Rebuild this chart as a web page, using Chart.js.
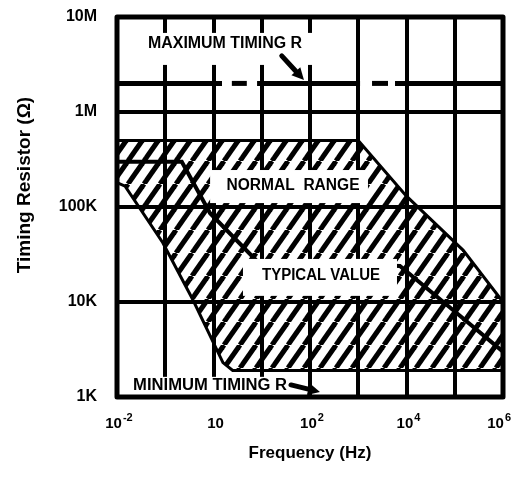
<!DOCTYPE html>
<html>
<head>
<meta charset="utf-8">
<script src="https://cdn.jsdelivr.net/npm/chart.js@4.4.1/dist/chart.umd.min.js"></script>
<style>
  html, body { margin: 0; padding: 0; background: #fff; }
  #wrap { width: 515px; height: 482px; }
</style>
</head>
<body>
<div id="wrap"><canvas id="c" width="515" height="482"></canvas></div>
<script>
// Timing resistor range versus oscillator frequency
const FONT = '"Liberation Sans", Arial, sans-serif';

// frequency axis decades (Hz); printed labels as base + exponent
const freqTicks = [1e-2, 1e-1, 1, 1e1, 1e2, 1e3, 1e4, 1e5, 1e6];
const freqTickBase = ['10', '', '10', '', '10', '', '10', '', '10'];
const freqTickExp  = ['-2', '', '',   '', '2',  '', '4',  '', '6'];

// resistor axis decades (ohms) and their printed labels
const resTicks = [1e3, 1e4, 1e5, 1e6, 1e7];
const resTickLabels = ['1K', '10K', '100K', '1M', '10M'];

// upper edge of the normal range
const upperFreq = [0.01, 1e3, 1e4, 1.5e5, 1e6];
const upperRes  = [5e5, 5e5, 1.3e5, 3.5e4, 1e4];

// lower edge of the normal range
const lowerFreq = [0.01, 0.0147, 0.089, 0.376, 1.57, 2.5, 1e6];
const lowerRes  = [1.8e5, 1.66e5, 4.2e4, 1.05e4, 2.3e3, 1.9e3, 1.9e3];

// typical value curve
const typFreq = [0.01, 0.22, 0.85, 7.9, 7300, 6.9e4, 1e6];
const typRes  = [3e5, 3e5, 8.6e4, 2.7e4, 2.4e4, 9.3e3, 3e3];

// maximum timing resistor limit, broken in two stretches
const maxFreq = [0.01, 1.5, 2.4, 4.9, 8.0, 1090, 1930, 4140, 5780, 1e6];
const maxRes  = [2e6, 2e6, 2e6, 2e6, 2e6, 2e6, 2e6, 2e6, 2e6, 2e6];

const toPoints = (xs, ys) => xs.map((x, i) => ({ x, y: ys[i] }));

// text annotations, placed in data coordinates
const notes = [
  { text: 'MAXIMUM TIMING R', at: [1.73, 5.2e6], box: [0.030, 6.8e6, 110, 3.13e6], width: 154 },
  { text: 'NORMAL  RANGE',    at: [44.5, 1.66e5], box: [0.85, 2.45e5, 1590, 1.1e5], width: 133 },
  { text: 'TYPICAL VALUE',    at: [169, 1.88e4],  box: [4.08, 2.84e4, 6350, 1.16e4], width: 118 },
  { text: 'MINIMUM TIMING R', at: [0.85, 1.31e3], box: [0.0154, 1.63e3, 42.4, 1e3], width: 154 }
];
const arrows = [
  { from: [26, 3.9e6], to: [75, 2.17e6] },
  { from: [40.4, 1.34e3], to: [161, 1.13e3] }
];
const yTitle = 'Timing Resistor (\u03A9)';

const canvas = document.getElementById('c');
const ctx2d = canvas.getContext('2d');

// diagonal hatch used for the normal range
function makeHatch() {
  const w = 16, h = 23;
  const tile = document.createElement('canvas');
  tile.width = w; tile.height = h;
  const g = tile.getContext('2d');
  g.strokeStyle = '#000';
  g.lineWidth = 5;
  for (const dx of [-w, 0, w]) {
    g.beginPath();
    g.moveTo(dx, h);
    g.lineTo(dx + w, 0);
    g.stroke();
  }
  return ctx2d.createPattern(tile, 'repeat');
}
const hatch = makeHatch();

function drawArrow(ctx, x0, y0, x1, y1) {
  const ang = Math.atan2(y1 - y0, x1 - x0);
  const head = 12;
  const bx = x1 - head * Math.cos(ang), by = y1 - head * Math.sin(ang);
  ctx.beginPath();
  ctx.moveTo(x0, y0);
  ctx.lineTo(bx, by);
  ctx.lineWidth = 5;
  ctx.lineCap = 'round';
  ctx.strokeStyle = '#000';
  ctx.stroke();
  ctx.beginPath();
  ctx.moveTo(x1, y1);
  ctx.lineTo(bx + 6 * Math.sin(ang), by - 6 * Math.cos(ang));
  ctx.lineTo(bx - 6 * Math.sin(ang), by + 6 * Math.cos(ang));
  ctx.closePath();
  ctx.fillStyle = '#000';
  ctx.fill();
}

// text stretched or squeezed to a given width
function fitText(ctx, text, cx, cy, width) {
  const w = ctx.measureText(text).width;
  ctx.save();
  ctx.translate(cx, cy);
  ctx.scale(width / w, 1);
  ctx.fillText(text, 0, 0);
  ctx.restore();
}

const notesPlugin = {
  id: 'notes',
  afterDraw(chart) {
    const { ctx, chartArea: a, scales: { x, y } } = chart;
    ctx.save();
    for (const n of notes) {
      const x0 = x.getPixelForValue(n.box[0]), y0 = y.getPixelForValue(n.box[1]);
      const x1 = x.getPixelForValue(n.box[2]), y1 = y.getPixelForValue(n.box[3]);
      ctx.fillStyle = '#fff';
      ctx.fillRect(x0, y0, x1 - x0, y1 - y0);
    }
    ctx.fillStyle = '#000';
    ctx.textAlign = 'center';
    ctx.textBaseline = 'middle';
    ctx.font = 'bold 16px ' + FONT;
    for (const n of notes) {
      fitText(ctx, n.text, x.getPixelForValue(n.at[0]), y.getPixelForValue(n.at[1]), n.width);
    }
    for (const ar of arrows) {
      drawArrow(ctx,
        x.getPixelForValue(ar.from[0]), y.getPixelForValue(ar.from[1]),
        x.getPixelForValue(ar.to[0]), y.getPixelForValue(ar.to[1]));
    }
    // heavy frame round the plot
    ctx.lineWidth = 5;
    ctx.lineJoin = 'round';
    ctx.strokeStyle = '#000';
    ctx.strokeRect(a.left, a.top, a.right - a.left, a.bottom - a.top);

    // frequency tick labels with raised exponents
    ctx.fillStyle = '#000';
    ctx.textBaseline = 'middle';
    ctx.textAlign = 'left';
    const baseY = a.bottom + 27;
    freqTicks.forEach((v, i) => {
      const b = freqTickBase[i], e = freqTickExp[i];
      if (!b) return;
      ctx.font = 'bold 15px ' + FONT;
      const wb = ctx.measureText(b).width;
      ctx.font = 'bold 11px ' + FONT;
      const we = e ? ctx.measureText(e).width + 1 : 0;
      let left = x.getPixelForValue(v) - (wb + we) / 2 + 2;
      left = Math.min(left, chart.width - 4 - wb - we);
      ctx.font = 'bold 15px ' + FONT;
      ctx.fillText(b, left, baseY);
      if (e) {
        ctx.font = 'bold 11px ' + FONT;
        ctx.fillText(e, left + wb + 1, baseY - 6);
      }
    });

    // resistor axis title
    ctx.save();
    ctx.translate(25, (a.top + a.bottom) / 2 - 22);
    ctx.rotate(-Math.PI / 2);
    ctx.textAlign = 'center';
    ctx.font = 'bold 19px ' + FONT;
    ctx.fillText(yTitle, 0, 0);
    ctx.restore();
    ctx.restore();
  }
};

new Chart(canvas, {
  type: 'line',
  data: {
    datasets: [
      {
        label: 'Normal range (upper)',
        data: toPoints(upperFreq, upperRes),
        borderColor: '#000', borderWidth: 3,
        backgroundColor: hatch, fill: '+1'
      },
      {
        label: 'Normal range (lower)',
        data: toPoints(lowerFreq, lowerRes),
        borderColor: '#000', borderWidth: 3, fill: false
      },
      {
        label: 'Typical value',
        data: toPoints(typFreq, typRes),
        borderColor: '#000', borderWidth: 4, fill: false
      },
      {
        label: 'Maximum timing R',
        data: toPoints(maxFreq, maxRes),
        borderColor: '#000', borderWidth: 5, fill: false,
        borderCapStyle: 'butt',
        segment: {
          borderColor: c => (c.p0DataIndex % 2 === 1 ? 'rgba(0,0,0,0)' : '#000')
        }
      }
    ]
  },
  options: {
    responsive: false,
    animation: false,
    events: [],
    elements: { point: { radius: 0 }, line: { tension: 0 } },
    layout: { padding: { left: 0, right: 12, top: 17, bottom: 0 } },
    plugins: { legend: { display: false }, tooltip: { enabled: false } },
    scales: {
      x: {
        type: 'logarithmic', min: 1e-2, max: 1e6,
        afterBuildTicks: s => { s.ticks = freqTicks.map(v => ({ value: v })); },
        afterFit: s => { s.height = 85; s.paddingLeft = 0; s.paddingRight = 0; },
        grid: { color: '#000', lineWidth: 4, drawTicks: false },
        border: { display: false },
        ticks: { display: false },
        title: {
          display: true, text: 'Frequency (Hz)', color: '#000',
          font: { family: FONT, size: 17, weight: 'bold' },
          padding: { top: 4, bottom: 18 }
        }
      },
      y: {
        type: 'logarithmic', min: 1e3, max: 1e7,
        afterBuildTicks: s => { s.ticks = resTicks.map(v => ({ value: v })); },
        afterFit: s => { s.width = 117; s.paddingTop = 0; s.paddingBottom = 0; },
        grid: { color: '#000', lineWidth: 4, drawTicks: false },
        border: { display: false },
        ticks: {
          autoSkip: false, padding: 20, color: '#000',
          font: { family: FONT, size: 16, weight: 'bold' },
          callback: (v, i) => resTickLabels[i]
        },
        title: { display: false }
      }
    }
  },
  plugins: [notesPlugin]
});
</script>
</body>
</html>
